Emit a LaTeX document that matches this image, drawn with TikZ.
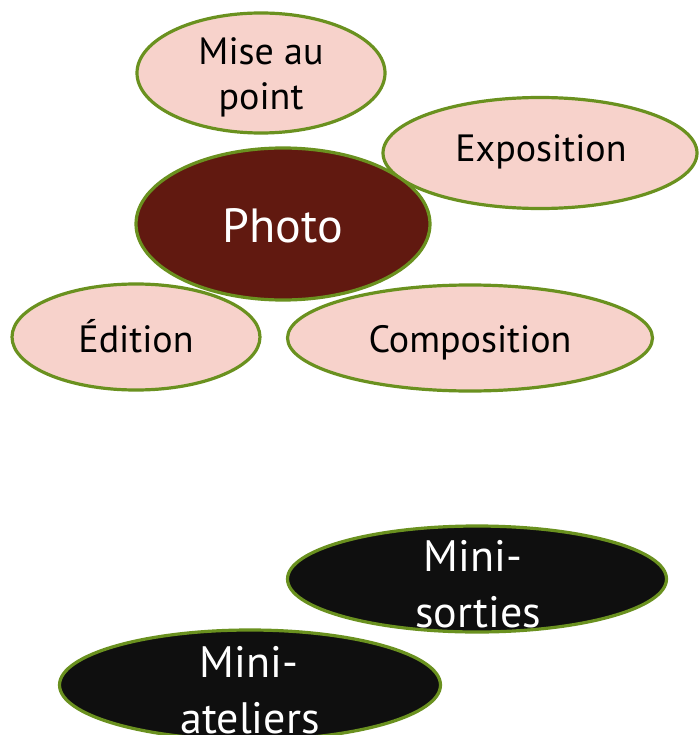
\documentclass[tikz,border=0pt]{standalone}
\usepackage{fontspec}
\setmainfont{PT Sans}
\usetikzlibrary{shapes.geometric}
\definecolor{pinkfill}{HTML}{F7D2CB}
\definecolor{greenline}{HTML}{6A911F}
\definecolor{photofill}{HTML}{611910}
\definecolor{blackfill}{HTML}{0F0F0F}
\tikzset{
  bubble/.style={ellipse, draw=greenline, line width=3.2pt, inner sep=0pt},
  light/.style={bubble, fill=pinkfill},
  dark/.style={bubble, fill=blackfill},
  lighttext/.style={anchor=base, inner sep=0pt, text=black, font=\fontsize{38}{46}\selectfont},
  darktext/.style={anchor=base, inner sep=0pt, text=white, font=\fontsize{44}{55}\selectfont},
}
\begin{document}
\begin{tikzpicture}[x=1pt,y=-1pt]
\useasboundingbox (0,0) rectangle (698,735);
\node[light, minimum width=248pt, minimum height=120pt] (mise) at (261,73) {};
\node[lighttext] (mise1) at (261,65) {Mise au};
\node[lighttext] (mise2) at (261,110) {point};
\node[light, minimum width=314pt, minimum height=111pt] (expo) at (540,153) {};
\node[lighttext] (expot) at (541,162) {Exposition};
\node[bubble, fill=photofill, minimum width=294pt, minimum height=152pt] (photo) at (283,224) {};
\node[anchor=base, inner sep=0pt, text=white, font=\fontsize{48}{58}\selectfont] (photot) at (283,242) {Photo};
\node[light, minimum width=248pt, minimum height=106pt] (edit) at (136,337) {};
\node[lighttext] (editt) at (136,352) {Édition};
\node[light, minimum width=365pt, minimum height=106pt] (comp) at (470,338) {};
\node[lighttext] (compt) at (470,352) {Composition};
\node[dark, minimum width=379pt, minimum height=106pt] (sorties) at (477,579) {};
\node[darktext] (sorties1) at (473,571) {Mini-};
\node[darktext] (sorties2) at (478,627) {sorties};
\node[dark, minimum width=381pt, minimum height=110pt] (ateliers) at (250,685) {};
\node[darktext] (ateliers1) at (249,677) {Mini-};
\node[darktext] (ateliers2) at (250,733) {ateliers};
\end{tikzpicture}
\end{document}
